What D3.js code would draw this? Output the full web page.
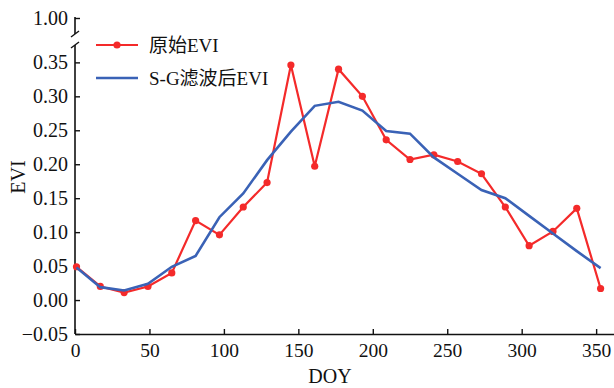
<!DOCTYPE html>
<html>
<head>
<meta charset="utf-8">
<script src="https://cdn.jsdelivr.net/npm/d3@7"></script>
<style>
  body { margin: 0; background: #fff; }
  svg text { font-family: "Liberation Serif", "Times New Roman", "Noto Sans CJK SC", serif !important; fill: #111; }
</style>
</head>
<body>
<svg id="chart"></svg>
<script>
// data (DOY every 16 days)
const doy = [1, 17, 33, 49, 65, 81, 97, 113, 129, 145, 161, 177, 193, 209, 225, 241, 257, 273, 289, 305, 321, 337, 353];
const rawEvi = [0.049, 0.020, 0.011, 0.020, 0.040, 0.117, 0.096, 0.137, 0.173, 0.346, 0.197, 0.340, 0.300, 0.236, 0.207, 0.214, 0.204, 0.186, 0.137, 0.080, 0.101, 0.135, 0.017];
const sgEvi = [0.048, 0.019, 0.014, 0.024, 0.049, 0.065, 0.122, 0.157, 0.206, 0.248, 0.286, 0.292, 0.279, 0.249, 0.245, 0.210, 0.186, 0.162, 0.150, 0.124, 0.098, 0.072, 0.047];
const xTicks = [0, 50, 100, 150, 200, 250, 300, 350];
const yTicks = [-0.05, 0, 0.05, 0.10, 0.15, 0.20, 0.25, 0.30, 0.35, 1.00];
const seriesNames = ["原始EVI", "S-G滤波后EVI"];

const width = 614, height = 388;
const red = "#f42a2a", blue = "#3a62b6";
const serif = "Liberation Serif, Times New Roman, serif";

const svg = d3.select("#chart").attr("width", width).attr("height", height)
  .attr("font-family", serif);

// x scale, axis runs to the right edge
const x = d3.scaleLinear().domain([0, 362]).range([75, 614]);
// broken y axis: lower part linear, squeezed top part up to 1.00
const y = d3.scaleLinear().domain([-0.05, 0.38, 1.0]).range([334, 42, 18]);

// x axis (ticks pointing inward)
const xAxis = svg.append("g").attr("transform", `translate(0,${y(-0.05)})`)
  .call(d3.axisBottom(x).tickValues(xTicks).tickSizeInner(-5).tickSizeOuter(0).tickPadding(9))
  .attr("font-family", serif).attr("font-size", 19.5);
xAxis.select(".domain").attr("stroke", "#111").attr("stroke-width", 1.6);
xAxis.selectAll(".tick line").attr("stroke", "#111").attr("stroke-width", 1.4);

// y axis (ticks pointing inward), domain drawn by hand because of the break
const yAxis = svg.append("g").attr("transform", `translate(${x(0)},0)`)
  .call(d3.axisLeft(y).tickValues(yTicks).tickSizeInner(-5).tickSizeOuter(0).tickPadding(7)
    .tickFormat(d => d3.format(".2f")(d).replace("-", "\u2212")))
  .attr("font-family", serif).attr("font-size", 20);
yAxis.select(".domain").remove();
yAxis.selectAll(".tick line").attr("stroke", "#111").attr("stroke-width", 1.4);

const breakTop = 34, breakBot = 45;
svg.append("line").attr("x1", x(0)).attr("x2", x(0)).attr("y1", y(1.0) - 1).attr("y2", breakTop)
  .attr("stroke", "#111").attr("stroke-width", 1.6);
svg.append("line").attr("x1", x(0)).attr("x2", x(0)).attr("y1", breakBot).attr("y2", y(-0.05))
  .attr("stroke", "#111").attr("stroke-width", 1.6);
[breakTop, breakBot].forEach(by => {
  svg.append("line").attr("x1", x(0) - 4).attr("y1", by + 3).attr("x2", x(0) + 4).attr("y2", by - 3)
    .attr("stroke", "#111").attr("stroke-width", 1.4);
});

// axis titles
svg.append("text").attr("x", 330).attr("y", 383).attr("text-anchor", "middle")
  .attr("font-size", 20).text("DOY");
svg.append("text").attr("transform", "translate(25,177) rotate(-90)").attr("text-anchor", "middle")
  .attr("font-size", 20).text("EVI");

// lines
const line = d3.line().x(d => x(d[0])).y(d => y(d[1]));
const rawPts = doy.map((d, i) => [d, rawEvi[i]]);
const sgPts = doy.map((d, i) => [d, sgEvi[i]]);

svg.append("path").datum(rawPts).attr("d", line)
  .attr("fill", "none").attr("stroke", red).attr("stroke-width", 2.2);
svg.selectAll("circle.raw").data(rawPts).enter().append("circle")
  .attr("class", "raw").attr("cx", d => x(d[0])).attr("cy", d => y(d[1])).attr("r", 3.6).attr("fill", red);
svg.append("path").datum(sgPts).attr("d", line)
  .attr("fill", "none").attr("stroke", blue).attr("stroke-width", 2.6);

// legend
const legend = svg.append("g").attr("transform", "translate(96,45)");
legend.append("line").attr("x1", 0).attr("x2", 42).attr("y1", 0).attr("y2", 0).attr("stroke", red).attr("stroke-width", 2.2);
legend.append("circle").attr("cx", 21).attr("cy", 0).attr("r", 3.6).attr("fill", red);
legend.append("line").attr("x1", 0).attr("x2", 42).attr("y1", 33).attr("y2", 33).attr("stroke", blue).attr("stroke-width", 2.6);
legend.selectAll("text.lbl").data(seriesNames).enter().append("text")
  .attr("class", "lbl").attr("x", 53).attr("y", (d, i) => i * 33 + 7)
  .attr("font-size", 19).text(d => d);
</script>
</body>
</html>
